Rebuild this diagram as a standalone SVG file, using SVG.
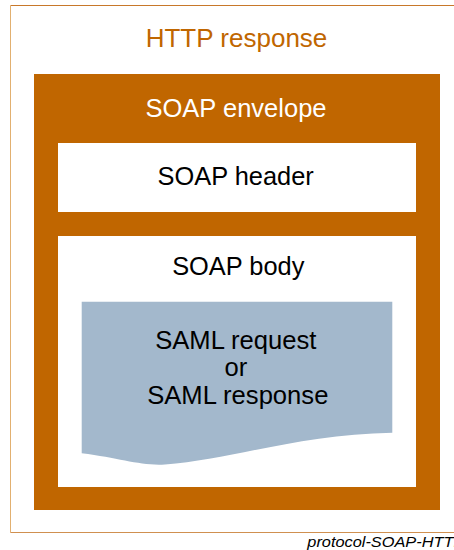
<svg xmlns="http://www.w3.org/2000/svg" width="454" height="550" viewBox="0 0 454 550">
<style>
text{font-family:"Liberation Sans",Arial,sans-serif;text-anchor:middle}
.dark{fill:#000}
.env{fill:#c06600}
</style>
<rect width="454" height="550" fill="#fff"/>
<g id="http-response">
<line x1="10.5" y1="5.5" x2="454" y2="5.5" stroke="#c8782a" stroke-width="1"/>
<line x1="10.5" y1="5.5" x2="10.5" y2="532.5" stroke="#e2b070" stroke-width="1"/>
<line x1="10.5" y1="532.5" x2="454" y2="532.5" stroke="#d09050" stroke-width="1"/>
<text x="236.5" y="47" font-size="26" fill="#c06600">HTTP response</text>
</g>
<g id="soap-envelope">
<rect class="env" x="34" y="74" width="406" height="436"/>
<text x="236" y="116.5" font-size="25.5" fill="#fff">SOAP envelope</text>
</g>
<g id="soap-header">
<rect x="58" y="143" width="358" height="69" fill="#fff"/>
<text class="dark" x="235.7" y="185" font-size="25.4">SOAP header</text>
</g>
<g id="soap-body">
<rect x="58" y="236" width="358" height="251" fill="#fff"/>
<text class="dark" x="238.3" y="275" font-size="25.4">SOAP body</text>
</g>
<g id="saml-message">
<path d="M81.7,301.7 H392.3 V432.7 C300,434 230,460 165,464.5 C140,466 120,458 81.7,453.3 Z" fill="#a3b8cc"/>
<text class="dark" x="235.8" y="348.5" font-size="25.6">SAML request</text>
<text class="dark" x="236" y="376" font-size="25.6">or</text>
<text class="dark" x="237.8" y="403.5" font-size="25.6">SAML response</text>
</g>
<g id="connectors"/>
<text x="307.3" y="546.5" font-size="14" font-style="italic" fill="#000" style="text-anchor:start" textLength="157" lengthAdjust="spacingAndGlyphs">protocol-SOAP-HTTP</text>
</svg>
